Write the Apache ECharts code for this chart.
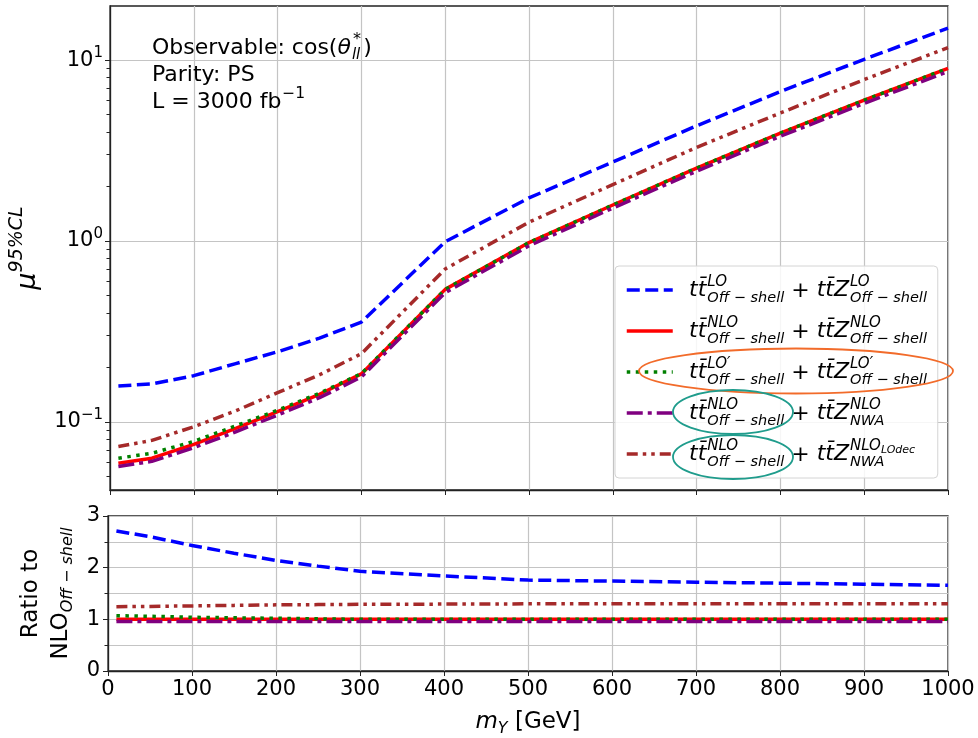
<!DOCTYPE html>
<html>
<head>
<meta charset="utf-8">
<script src="https://cdn.jsdelivr.net/npm/echarts@6/dist/echarts.min.js"></script>
<style>
html, body { margin: 0; padding: 0; background: #fff; }
#chart { width: 978px; height: 738px; }
</style>
</head>
<body>
<div id="chart"></div>
<script>
// m_Y points (GeV)
const massPoints = [10, 50, 100, 150, 200, 250, 300, 400, 500, 600, 700, 800, 900, 1000];

// mu^95%CL, upper panel
const muLO       = [0.158, 0.162, 0.180, 0.210, 0.244, 0.290, 0.356, 0.99, 1.73, 2.73, 4.33, 6.70, 10.1, 15.0];
const muNLO      = [0.059, 0.063, 0.075, 0.092, 0.114, 0.142, 0.184, 0.54, 0.98, 1.58, 2.53, 3.95, 6.00, 9.00];
const muLOprime  = [0.063, 0.067, 0.078, 0.095, 0.116, 0.144, 0.185, 0.54, 0.98, 1.58, 2.53, 3.95, 6.00, 9.00];
const muNWA      = [0.0566, 0.0605, 0.072, 0.088, 0.109, 0.136, 0.177, 0.518, 0.94, 1.52, 2.43, 3.79, 5.76, 8.64];
const muNWALOdec = [0.073, 0.079, 0.094, 0.115, 0.145, 0.182, 0.238, 0.70, 1.27, 2.05, 3.29, 5.10, 7.80, 11.7];

// ratio to NLO off-shell, lower panel
const ratioLO       = [2.71, 2.60, 2.43, 2.28, 2.14, 2.03, 1.93, 1.84, 1.76, 1.74, 1.72, 1.70, 1.68, 1.66];
const ratioNLO      = [1.00, 1.00, 1.00, 1.00, 1.00, 1.00, 1.00, 1.00, 1.00, 1.00, 1.00, 1.00, 1.00, 1.00];
const ratioLOprime  = [1.07, 1.06, 1.04, 1.03, 1.02, 1.01, 1.00, 1.00, 1.00, 1.00, 1.00, 1.00, 1.00, 1.00];
const ratioNWA      = [0.96, 0.96, 0.96, 0.96, 0.96, 0.96, 0.96, 0.96, 0.96, 0.96, 0.96, 0.96, 0.96, 0.96];
const ratioNWALOdec = [1.245, 1.25, 1.26, 1.27, 1.28, 1.285, 1.29, 1.295, 1.30, 1.30, 1.30, 1.30, 1.30, 1.30];

// tick values
const logMajorTicks = [0.1, 1, 10];
const logMinorTicks = [0.05, 0.06, 0.07, 0.08, 0.09, 0.2, 0.3, 0.4, 0.5, 0.6, 0.7, 0.8, 0.9, 2, 3, 4, 5, 6, 7, 8, 9];
const logTickLabels = { '-1': '−1', '0': '0', '1': '1' };

// legend labels: [base, sup, sub, sup-sub]
const legendRows = [
    [['tt̄', 'LO', 'Off − shell'], ['tt̄Z', 'LO', 'Off − shell']],
    [['tt̄', 'NLO', 'Off − shell'], ['tt̄Z', 'NLO', 'Off − shell']],
    [['tt̄', 'LO′', 'Off − shell'], ['tt̄Z', 'LO′', 'Off − shell']],
    [['tt̄', 'NLO', 'Off − shell'], ['tt̄Z', 'NLO', 'NWA']],
    [['tt̄', 'NLO', 'Off − shell'], ['tt̄Z', 'NLO', 'NWA', 'LOdec']]
];

const curves = [
    { name: 'lo', color: '#0000ff', dash: [13, 5.5], mu: muLO, ratio: ratioLO },
    { name: 'nlo', color: '#ff0000', dash: 'solid', mu: muNLO, ratio: ratioNLO },
    { name: 'loprime', color: '#008000', dash: [3.5, 5.5], mu: muLOprime, ratio: ratioLOprime },
    { name: 'nwa', color: '#800080', dash: [16, 5, 4, 5], mu: muNWA, ratio: ratioNWA },
    { name: 'nwalodec', color: '#a52a2a', dash: [11, 5, 3.5, 5, 3.5, 5], mu: muNWALOdec, ratio: ratioNWALOdec }
];

const FONT = '"DejaVu Sans"';
const measureCtx = document.createElement('canvas').getContext('2d');
function textWidth(str, size, italic) {
    measureCtx.font = (italic ? 'italic ' : '') + size + 'px ' + FONT;
    return measureCtx.measureText(str).width;
}
function txt(x, y, str, size, italic) {
    return {
        type: 'text', x: x, y: y, z: 100,
        style: {
            text: str, fill: '#000',
            font: (italic ? 'italic ' : '') + size + 'px ' + FONT,
            align: 'left', verticalAlign: 'middle'
        }
    };
}

// base + stacked sup/sub, returns next x
function mathTerm(items, x, y, base, sup, sub, supSub) {
    items.push(txt(x, y, base, 22, true));
    x += textWidth(base, 22, true) + 1;
    let wSup = textWidth(sup, 15, true);
    items.push(txt(x, y - 8, sup, 15, true));
    if (supSub) {
        items.push(txt(x + wSup, y - 4, supSub, 11, true));
        wSup += textWidth(supSub, 11, true);
    }
    items.push(txt(x, y + 8, sub, 14.5, true));
    return x + Math.max(wSup, textWidth(sub, 14.5, true));
}

const graphics = [];

legendRows.forEach(function (row, r) {
    const y = 290 + 41 * r;
    let x = 689;
    x = mathTerm(graphics, x, y, row[0][0], row[0][1], row[0][2], row[0][3]);
    graphics.push(txt(x, y + 1, ' + ', 22, false));
    x += textWidth(' + ', 22, false);
    mathTerm(graphics, x, y, row[1][0], row[1][1], row[1][2], row[1][3]);
});

// annotation block
(function () {
    let x = 152;
    const y1 = 48, y2 = 75, y3 = 102;
    graphics.push(txt(x, y1, 'Observable: cos(', 22, false));
    x += textWidth('Observable: cos(', 22, false);
    graphics.push(txt(x, y1, 'θ', 22, true));
    x += textWidth('θ', 22, true) + 1;
    graphics.push(txt(x + 1, y1 - 8, '*', 16, false));
    graphics.push(txt(x, y1 + 7, 'll', 15, true));
    x += Math.max(textWidth('*', 16, false), textWidth('ll', 15, true)) + 3;
    graphics.push(txt(x, y1, ')', 22, false));

    graphics.push(txt(152, y2, 'Parity: PS', 22, false));
    graphics.push(txt(152, y3, 'L = 3000 fb', 22, false));
    graphics.push(txt(152 + textWidth('L = 3000 fb', 22, false) + 1, y3 - 8, '−1', 15.5, false));
})();

// highlight ellipses
graphics.push({ type: 'ellipse', z: 101, shape: { cx: 796, cy: 371, rx: 157, ry: 22.5 },
    style: { fill: 'none', stroke: '#f26b2a', lineWidth: 1.8 } });
graphics.push({ type: 'ellipse', z: 101, shape: { cx: 733, cy: 412, rx: 60, ry: 22 },
    style: { fill: 'none', stroke: '#1f9c8c', lineWidth: 1.8 } });
graphics.push({ type: 'ellipse', z: 101, shape: { cx: 733, cy: 457, rx: 60, ry: 22 },
    style: { fill: 'none', stroke: '#1f9c8c', lineWidth: 1.8 } });

const spine = '#222';
const gridLine = { show: true, lineStyle: { color: '#c4c4c4', width: 1.2 } };

const series = [];
curves.forEach(function (c) {
    const common = {
        name: c.name, type: 'line', symbol: 'none', showSymbol: false,
        lineStyle: { color: c.color, width: 3.5, type: c.dash },
        itemStyle: { color: c.color },
        emphasis: { disabled: true }
    };
    series.push(Object.assign({}, common, {
        xAxisIndex: 0, yAxisIndex: 0,
        data: massPoints.map(function (m, i) { return [m, c.mu[i]]; })
    }));
    series.push(Object.assign({}, common, {
        xAxisIndex: 1, yAxisIndex: 2,
        data: massPoints.map(function (m, i) { return [m, c.ratio[i]]; })
    }));
});

const chart = echarts.init(document.getElementById('chart'));
chart.setOption({
    animation: false,
    backgroundColor: '#fff',
    grid: [
        { left: 108, top: 6, width: 840, height: 484, show: true, borderColor: spine, borderWidth: 1.3, backgroundColor: 'transparent' },
        { left: 108, top: 516, width: 840, height: 161, show: true, borderColor: spine, borderWidth: 1.3, backgroundColor: 'transparent' }
    ],
    legend: {
        data: curves.map(function (c) { return c.name; }),
        orient: 'vertical', left: 615, top: 266,
        padding: [17, 5, 17, 10],
        itemWidth: 46, itemHeight: 14, itemGap: 27,
        backgroundColor: 'rgba(255,255,255,0.85)',
        borderColor: '#d4d4d4', borderWidth: 1, borderRadius: 4,
        selectedMode: false,
        itemStyle: { opacity: 0 },
        lineStyle: { width: 3.5 },
        formatter: function () { return ' '; },
        textStyle: { width: 255, fontSize: 10, lineHeight: 14 },
        z: 20
    },
    xAxis: [
        {
            gridIndex: 0, type: 'value', min: 0, max: 1000, interval: 100,
            axisLine: { show: true, lineStyle: { color: spine, width: 1.3 } },
            axisTick: { show: true, length: 5, lineStyle: { color: spine } },
            axisLabel: { show: false },
            splitLine: gridLine
        },
        {
            gridIndex: 1, type: 'value', min: 0, max: 1000, interval: 100,
            axisLine: { show: true, lineStyle: { color: spine, width: 1.3 } },
            axisTick: { show: true, length: 5, lineStyle: { color: spine } },
            axisLabel: {
                color: '#000', fontSize: 21, fontFamily: FONT, margin: 8,
                formatter: function (v) { return String(v); }
            },
            splitLine: gridLine,
            name: '{i|m}{s|Y} [GeV]', nameLocation: 'middle', nameGap: 36,
            nameTextStyle: {
                color: '#000', fontSize: 23, fontFamily: FONT,
                rich: {
                    i: { fontSize: 23, fontStyle: 'italic', fontFamily: FONT, lineHeight: 30, color: '#000' },
                    s: { fontSize: 16, fontStyle: 'italic', fontFamily: FONT, verticalAlign: 'bottom', lineHeight: 16, color: '#000' }
                }
            }
        }
    ],
    yAxis: [
        {
            gridIndex: 0, type: 'log', logBase: 10, min: 0.042, max: 19.9, position: 'left',
            axisLine: { show: true, lineStyle: { color: spine, width: 1.3 } },
            axisTick: { show: true, length: 5, customValues: logMajorTicks, lineStyle: { color: spine } },
            axisLabel: {
                customValues: logMajorTicks, margin: 7, color: '#000',
                formatter: function (v) {
                    const e = Math.round(Math.log10(v));
                    return '{b|10}{s|' + logTickLabels[String(e)] + '}';
                },
                rich: {
                    b: { fontSize: 21, fontFamily: FONT, lineHeight: 29, color: '#000' },
                    s: { fontSize: 15, fontFamily: FONT, lineHeight: 15, verticalAlign: 'top', color: '#000' }
                }
            },
            splitLine: gridLine,
            name: '{i|μ}{s|95%CL}', nameLocation: 'middle', nameRotate: 90, nameGap: 62,
            nameTextStyle: {
                color: '#000',
                rich: {
                    i: { fontSize: 27, fontStyle: 'italic', fontFamily: FONT, lineHeight: 40, color: '#000' },
                    s: { fontSize: 19, fontStyle: 'italic', fontFamily: FONT, lineHeight: 19, verticalAlign: 'top', color: '#000' }
                }
            }
        },
        {
            gridIndex: 0, type: 'log', logBase: 10, min: 0.042, max: 19.9, position: 'left', offset: 0,
            axisLine: { show: false },
            axisTick: { show: true, length: 3.5, customValues: logMinorTicks, lineStyle: { color: spine, width: 1 } },
            axisLabel: { show: false },
            splitLine: { show: false }
        },
        {
            gridIndex: 1, type: 'value', min: 0, max: 3, interval: 1,
            axisLine: { show: true, lineStyle: { color: spine, width: 1.3 } },
            axisTick: { show: true, length: 5, lineStyle: { color: spine } },
            minorTick: { show: true, splitNumber: 2, length: 3.5, lineStyle: { color: spine } },
            minorSplitLine: { show: true, lineStyle: { color: '#c4c4c4', width: 1.2 } },
            axisLabel: { color: '#000', fontSize: 21, fontFamily: FONT, margin: 8 },
            splitLine: gridLine,
            name: '{n|Ratio to}\n{n|NLO}{s|Off − shell}', nameLocation: 'middle', nameRotate: 90, nameGap: 24,
            nameTextStyle: {
                color: '#000',
                rich: {
                    n: { fontSize: 23, fontFamily: FONT, lineHeight: 30, color: '#000' },
                    s: { fontSize: 16, fontStyle: 'italic', fontFamily: FONT, lineHeight: 16, verticalAlign: 'bottom', color: '#000' }
                }
            }
        }
    ],
    graphic: graphics,
    series: series
});
</script>
</body>
</html>
